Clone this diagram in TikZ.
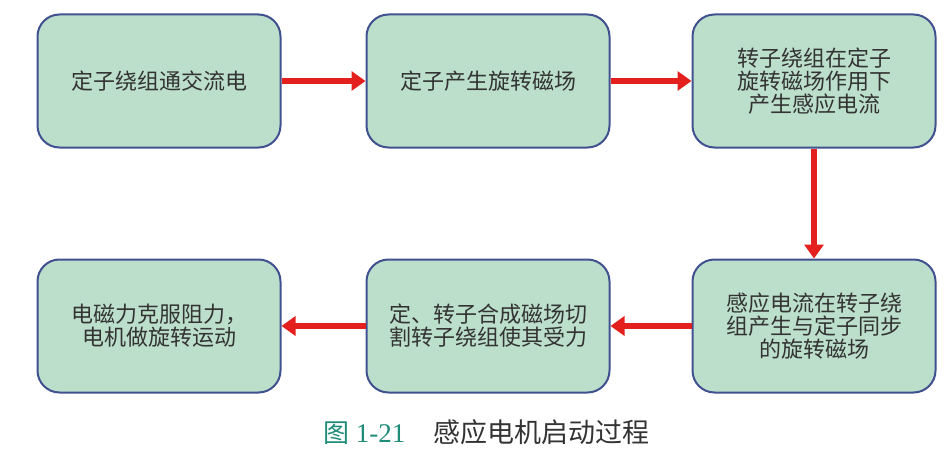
\documentclass[tikz,border=0pt]{standalone}
\usepackage{fontspec}
\setmainfont{Liberation Serif}
\newfontfamily\cjk{Noto Sans CJK SC}
\usetikzlibrary{arrows.meta}
\definecolor{boxfill}{HTML}{BCDFCC}
\definecolor{boxline}{HTML}{41518F}
\definecolor{arrowred}{HTML}{E3201E}
\definecolor{capteal}{HTML}{1E8C78}
\definecolor{captext}{HTML}{333333}
\tikzset{
  stepbox/.style={draw=boxline, line width=2pt, fill=boxfill, rounded corners=22pt,
    minimum width=243pt, minimum height=133pt, align=center, inner sep=0pt,
    font=\cjk\fontsize{22}{23}\selectfont, text=black!80},
  flow/.style={draw=arrowred, line width=6pt, -{Triangle[width=19pt,length=14pt]}},
}
\begin{document}
\begin{tikzpicture}[x=1pt,y=-1pt]
\useasboundingbox (0,0) rectangle (951,452);
\node[stepbox] (a) at (159,81) {定子绕组通交流电};
\node[stepbox] (b) at (488,81) {定子产生旋转磁场};
\node[stepbox] (c) at (814,81) {转子绕组在定子\\旋转磁场作用下\\产生感应电流};
\node[stepbox] (d) at (814,326) {感应电流在转子绕\\组产生与定子同步\\的旋转磁场};
\node[stepbox] (e) at (488,326) {定、转子合成磁场切\\割转子绕组使其受力};
\node[stepbox] (f) at (159,326) {电磁力克服阻力，\\电机做旋转运动};
\draw[flow] (a.east) -- (b.west);
\draw[flow] (b.east) -- (c.west);
\draw[flow] (c.south) -- (d.north);
\draw[flow] (d.west) -- (e.east);
\draw[flow] (e.west) -- (f.east);
\node[anchor=west, inner sep=0pt] (cap) at (323,432)
  {{\color{capteal}{\cjk\fontsize{26}{28}\selectfont 图}\fontsize{27}{28}\selectfont\ 1-21}\hspace{28pt}{\color{captext}\cjk\fontsize{27}{28}\selectfont 感应电机启动过程}};
\end{tikzpicture}
\end{document}
